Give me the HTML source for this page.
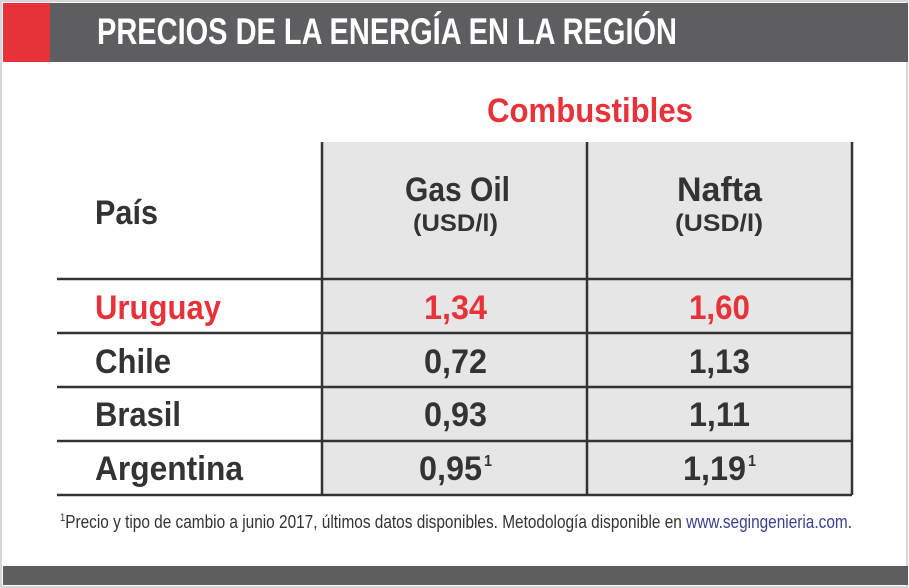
<!DOCTYPE html>
<html><head><meta charset="utf-8"><style>
html,body{margin:0;padding:0;background:#fff}
svg{display:block}
text{font-family:"Liberation Sans",sans-serif;font-weight:bold}
</style></head><body>
<svg width="909" height="588" viewBox="0 0 909 588">
<rect x="0" y="0" width="909" height="588" fill="#fff"/>
<rect x="1" y="1" width="906" height="586" fill="none" stroke="#d6d6d6" stroke-width="2"/>
<rect x="3" y="3" width="905" height="59" fill="#5e5e61"/>
<rect x="3" y="3" width="47" height="59" fill="#e8323a"/>
<text x="97" y="44" font-size="37" fill="#fff" textLength="580" lengthAdjust="spacingAndGlyphs">PRECIOS DE LA ENERGÍA EN LA REGIÓN</text>
<rect x="3" y="566" width="905" height="19" fill="#5e5e61"/>

<text x="487" y="122" font-size="34" fill="#e8323a" textLength="206" lengthAdjust="spacingAndGlyphs">Combustibles</text>

<rect x="322" y="142" width="530" height="353" fill="#e6e6e7"/>
<g stroke="#333" stroke-width="2.5">
<line x1="322" y1="142" x2="322" y2="495"/>
<line x1="587" y1="142" x2="587" y2="495"/>
<line x1="852" y1="142" x2="852" y2="495"/>
<line x1="57" y1="279" x2="852" y2="279"/>
<line x1="57" y1="333" x2="852" y2="333"/>
<line x1="57" y1="387" x2="852" y2="387"/>
<line x1="57" y1="441" x2="852" y2="441"/>
<line x1="57" y1="495" x2="852" y2="495"/>
</g>

<g fill="#333">
<text x="405" y="201" font-size="34" textLength="105" lengthAdjust="spacingAndGlyphs">Gas Oil</text>
<text x="413" y="231" font-size="24" textLength="85" lengthAdjust="spacingAndGlyphs">(USD/l)</text>
<text x="677" y="201" font-size="34" textLength="85" lengthAdjust="spacingAndGlyphs">Nafta</text>
<text x="675" y="231" font-size="24" textLength="88" lengthAdjust="spacingAndGlyphs">(USD/l)</text>
<text x="95" y="224" font-size="34" textLength="63" lengthAdjust="spacingAndGlyphs">País</text>

<text x="95" y="373" font-size="34" textLength="76" lengthAdjust="spacingAndGlyphs">Chile</text>
<text x="95" y="426" font-size="34" textLength="86" lengthAdjust="spacingAndGlyphs">Brasil</text>
<text x="95" y="480" font-size="34" textLength="148" lengthAdjust="spacingAndGlyphs">Argentina</text>

<text x="424" y="373" font-size="34" textLength="63" lengthAdjust="spacingAndGlyphs">0,72</text>
<text x="689" y="373" font-size="34" textLength="61" lengthAdjust="spacingAndGlyphs">1,13</text>
<text x="424" y="426" font-size="34" textLength="63" lengthAdjust="spacingAndGlyphs">0,93</text>
<text x="689" y="426" font-size="34" textLength="61" lengthAdjust="spacingAndGlyphs">1,11</text>
<text x="419" y="480" font-size="34" textLength="63" lengthAdjust="spacingAndGlyphs">0,95</text>
<text x="484" y="466" font-size="16" textLength="8" lengthAdjust="spacingAndGlyphs">1</text>
<text x="683" y="480" font-size="34" textLength="63" lengthAdjust="spacingAndGlyphs">1,19</text>
<text x="748" y="466" font-size="16" textLength="8" lengthAdjust="spacingAndGlyphs">1</text>
</g>
<g fill="#e8323a">
<text x="95" y="319" font-size="34" textLength="126" lengthAdjust="spacingAndGlyphs">Uruguay</text>
<text x="424" y="319" font-size="34" textLength="63" lengthAdjust="spacingAndGlyphs">1,34</text>
<text x="689" y="319" font-size="34" textLength="61" lengthAdjust="spacingAndGlyphs">1,60</text>
</g>

<text x="60" y="528" font-size="18" style="font-weight:normal" fill="#333" textLength="792" lengthAdjust="spacingAndGlyphs"><tspan font-size="11" dy="-7">1</tspan><tspan dy="7">Precio y tipo de cambio a junio 2017, últimos datos disponibles. Metodología disponible en </tspan><tspan fill="#3b3f8f">www.segingenieria.com</tspan>.</text>
</svg>
</body></html>
